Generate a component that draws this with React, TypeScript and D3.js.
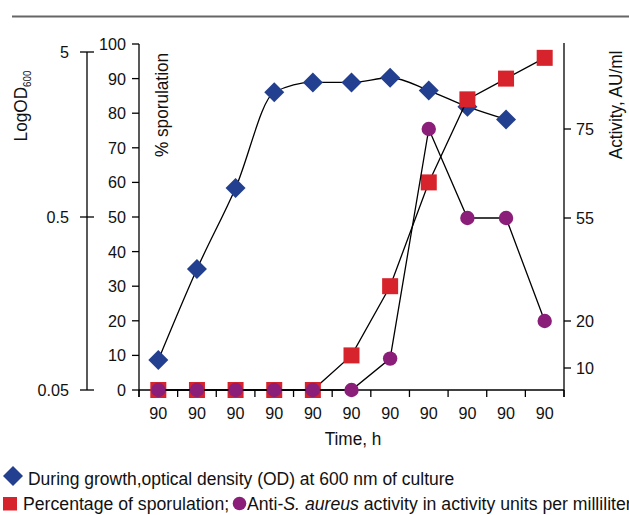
import React from 'react';
import * as d3 from 'd3';

const timeLabels = ['90', '90', '90', '90', '90', '90', '90', '90', '90', '90', '90'];
const odValues = [0.0745, 0.25, 0.75, 2.85, 3.27, 3.27, 3.49, 2.92, 2.33, 1.95];
const sporulation = [0, 0, 0, 0, 0, 10, 30, 60, 84, 90, 96];
const activity = [0, 0, 0, 0, 0, 0, 12, 75, 55, 55, 20];
const odTicks = [5, 0.5, 0.05];
const pctTicks = [0, 10, 20, 30, 40, 50, 60, 70, 80, 90, 100];
const activityTicks = [75, 55, 20, 10];

const BLUE = '#233f8f';
const RED = '#d7232b';
const PURPLE = '#8a1e78';
const FONT = "'Liberation Sans', Arial, sans-serif";

type TProps = { x: number; y: number; sx?: number; rot?: number; size?: number; anchor?: string; children: React.ReactNode };
function T({ x, y, sx = 1, rot = 0, size = 17, anchor = 'start', children }: TProps) {
  return (
    <text transform={`translate(${x},${y}) rotate(${rot}) scale(${sx},1)`} fontSize={size} textAnchor={anchor} fill="#111">
      {children}
    </text>
  );
}

export default function App() {
  const W = 629, H = 515;
  const idx = timeLabels.map((_, i) => i);
  const x = d3.scaleBand<number>().domain(idx).range([139, 564]);
  const cx = (i: number) => (x(i) as number) + x.bandwidth() / 2;
  const yPct = d3.scaleLinear().domain([0, 100]).range([390, 44]);
  const yODLin = d3.scaleLinear().domain([Math.log10(0.05), Math.log10(0.5), Math.log10(5)]).range([390, 217, 52]);
  const yOD = (v: number) => yODLin(Math.log10(v));
  const yAct = d3.scaleLinear().domain([0, 10, 20, 55, 75, 94]).range([390, 368, 321, 218, 129, 43]);

  const odLine = d3.line<number>().x((_, i) => cx(i)).y(d => yOD(d)).curve(d3.curveMonotoneX)(odValues) || '';
  const spLine = d3.line<number>().x((_, i) => cx(i)).y(d => yPct(d))(sporulation) || '';
  const acLine = d3.line<number>().x((_, i) => cx(i)).y(d => yAct(d))(activity) || '';

  const diamond = (px: number, py: number, r: number) => `M${px},${py - r}L${px + r},${py}L${px},${py + r}L${px - r},${py}Z`;

  return (
    <svg width={W} height={H} style={{ position: 'absolute', left: 0, top: 0, background: '#fff' }} fontFamily={FONT}>
      <rect x={0} y={0} width={W} height={H} fill="#fff" />
      <line x1={12} x2={629} y1={16.5} y2={16.5} stroke="#666" strokeWidth={2} />

      {/* Log OD axis */}
      <line x1={87} x2={87} y1={yOD(5)} y2={yOD(0.05)} stroke="#000" strokeWidth={1.3} />
      {odTicks.map(t => (
        <g key={'od' + t}>
          <line x1={80} x2={94} y1={yOD(t)} y2={yOD(t)} stroke="#000" strokeWidth={1.3} />
          <T x={69} y={yOD(t) + 6} anchor="end" sx={0.95}>{t}</T>
        </g>
      ))}
      <T x={27} y={106} rot={-90} size={18.5} sx={0.93} anchor="middle">
        LogOD<tspan fontSize={10.5} dy={4}>600</tspan>
      </T>

      {/* % axis */}
      <line x1={139} x2={139} y1={yPct(100)} y2={397} stroke="#000" strokeWidth={1.3} />
      {pctTicks.map(t => (
        <g key={'p' + t}>
          <line x1={132} x2={139} y1={yPct(t)} y2={yPct(t)} stroke="#000" strokeWidth={1.3} />
          <T x={126} y={yPct(t) + 6} anchor="end" sx={0.95}>{t}</T>
        </g>
      ))}
      <T x={168} y={105} rot={-90} size={18.5} sx={0.93} anchor="middle">% sporulation</T>

      {/* Right activity axis */}
      <line x1={564} x2={564} y1={43} y2={397} stroke="#000" strokeWidth={1.3} />
      {activityTicks.map(t => (
        <g key={'a' + t}>
          <line x1={564} x2={571} y1={yAct(t)} y2={yAct(t)} stroke="#000" strokeWidth={1.3} />
          <T x={576} y={yAct(t) + 6} sx={0.95}>{t}</T>
        </g>
      ))}
      <T x={622} y={105} rot={-90} size={18.5} sx={0.93} anchor="middle">Activity, AU/ml</T>

      {/* x axis */}
      <line x1={139} x2={564} y1={390} y2={390} stroke="#000" strokeWidth={1.3} />
      {idx.concat([idx.length]).map(i => {
        const tx = i < idx.length ? (x(i) as number) : 564;
        return <line key={'xt' + i} x1={tx} x2={tx} y1={390} y2={397} stroke="#000" strokeWidth={1.3} />;
      })}
      {idx.map(i => (
        <T key={'xl' + i} x={cx(i)} y={419} anchor="middle" sx={0.95}>{timeLabels[i]}</T>
      ))}
      <T x={353} y={445} anchor="middle" size={18.5} sx={0.93}>Time, h</T>

      {/* series */}
      <path d={odLine} fill="none" stroke="#000" strokeWidth={1.3} />
      {odValues.map((v, i) => (
        <path key={'d' + i} d={diamond(cx(i), yOD(v), 10)} fill={BLUE} />
      ))}
      <path d={spLine} fill="none" stroke="#000" strokeWidth={1.3} />
      {sporulation.map((v, i) => (
        <rect key={'s' + i} x={cx(i) - 8} y={yPct(v) - 8} width={16} height={16} fill={RED} />
      ))}
      <path d={acLine} fill="none" stroke="#000" strokeWidth={1.3} />
      {activity.map((v, i) => (
        <circle key={'c' + i} cx={cx(i)} cy={yAct(v)} r={7.2} fill={PURPLE} />
      ))}

      {/* legend */}
      <path d={diamond(13, 476, 10)} fill={BLUE} />
      <T x={28} y={485} size={18.5} sx={0.945}>During growth,optical density (OD) at 600 nm of culture</T>
      <rect x={3} y={497} width={14} height={13.5} fill={RED} />
      <T x={23} y={510} size={18.5} sx={0.955}>Percentage of sporulation;</T>
      <circle cx={239.5} cy={503.5} r={6.8} fill={PURPLE} />
      <T x={247} y={510} size={18.5} sx={0.955}>
        Anti-<tspan fontStyle="italic">S. aureus</tspan> activity in activity units per milliliter
      </T>
    </svg>
  );
}
